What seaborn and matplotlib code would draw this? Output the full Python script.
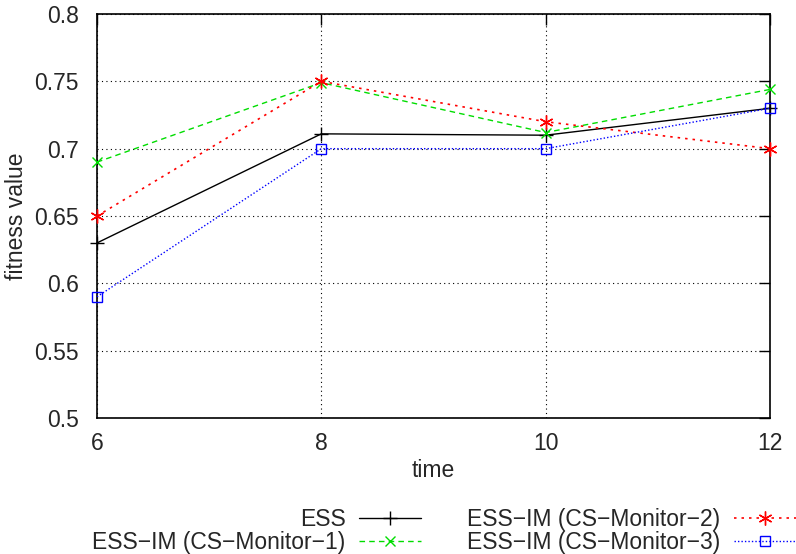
import matplotlib
matplotlib.use("Agg")
import matplotlib.pyplot as plt
import seaborn as sns
import pandas as pd

sns.set_theme(style="white")
plt.rcParams['font.family'] = ['Liberation Sans', 'DejaVu Sans']

times = [6, 8, 10, 12]
ess = [0.63, 0.711, 0.71, 0.73]
monitor1 = [0.69, 0.749, 0.712, 0.744]
monitor2 = [0.65, 0.75, 0.72, 0.70]
monitor3 = [0.59, 0.70, 0.70, 0.73]
labels = ["ESS", "ESS\u2212IM (CS\u2212Monitor\u22121)",
          "ESS\u2212IM (CS\u2212Monitor\u22122)", "ESS\u2212IM (CS\u2212Monitor\u22123)"]
yticks = [0.5, 0.55, 0.6, 0.65, 0.7, 0.75, 0.8]
ytick_labels = ["0.5", "0.55", "0.6", "0.65", "0.7", "0.75", "0.8"]
xticks = [6, 8, 10, 12]

FS = 16.5
fig = plt.figure(figsize=(7.96, 5.54), dpi=100)
ax = fig.add_axes([97/796, 1-418/554, (770-97)/796, (418-14)/554])

styles = [
    dict(color="black", linestyle="-", marker="+", markersize=10, mew=1.0, lw=1.0),
    dict(color="#00dd00", linestyle=(0, (4, 3)), marker="x", markersize=7, mew=1.0, lw=1.0),
    dict(color="red", linestyle=(0, (1.5, 3)), marker=(6, 2, 0), markersize=10, mew=1.0, lw=1.2),
    dict(color="blue", linestyle=(0, (1, 1.5)), marker="s", markersize=7, mew=1.0, lw=1.0,
         markerfacecolor="none"),
]
series = [ess, monitor1, monitor2, monitor3]
for vals, lab, st in zip(series, labels, styles):
    df = pd.DataFrame({"time": times, "fitness": vals})
    sns.lineplot(data=df, x="time", y="fitness", ax=ax, label=lab,
                 markeredgecolor=st["color"], clip_on=False, zorder=5, **st)

ax.set_xlim(6, 12)
ax.set_ylim(0.5, 0.8)
ax.set_xticks(xticks)
ax.set_xticklabels([str(t) for t in xticks])
ax.set_yticks(yticks)
ax.set_yticklabels(ytick_labels)
ax.tick_params(axis="both", which="major", labelsize=FS, direction="in",
               length=8, width=1, color="black", top=True, right=True)
ax.tick_params(axis="y", pad=13)
ax.tick_params(axis="x", pad=10)
ax.grid(True, color="black", linestyle=(0, (1, 3)), linewidth=0.8)
for s in ax.spines.values():
    s.set_color("black")
    s.set_linewidth(1.2)
ax.set_xlabel("time", fontsize=FS, labelpad=3)
ax.set_ylabel("fitness value", fontsize=FS)
ax.yaxis.set_label_coords(-69/673, 0.5)

handles, labs = ax.get_legend_handles_labels()
ax.get_legend().remove()
leg = fig.legend(handles, labs, loc="upper right", bbox_to_anchor=(1.0, 1 - 508/554),
                 ncol=2, frameon=False, markerfirst=False, fontsize=FS,
                 handlelength=2.7, columnspacing=2.0, labelspacing=0.0,
                 handletextpad=0.6, borderaxespad=0, borderpad=0)

fig.savefig("out.png", dpi=100)
